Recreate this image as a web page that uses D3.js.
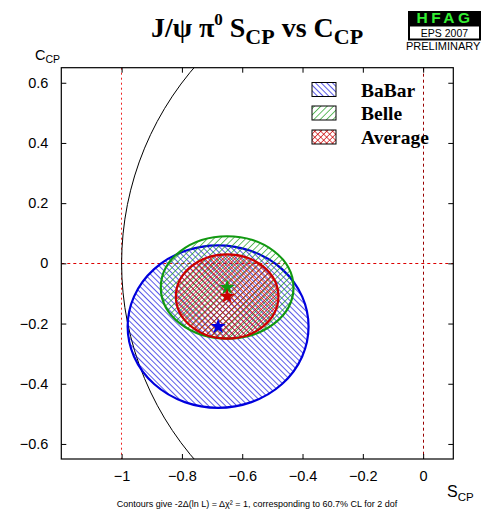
<!DOCTYPE html>
<html>
<head>
<meta charset="utf-8">
<script src="https://cdn.jsdelivr.net/npm/d3@7"></script>
<style>
  body { margin: 0; background: #fff; }
  svg { display: block; }
</style>
</head>
<body>
<svg width="483" height="509"></svg>
<script>
// measurements (S_CP, C_CP) with 1-sigma errors
var experiments = ["BaBar", "Belle", "Average"];
var sValues = [-0.68, -0.65, -0.65];
var cValues = [-0.21, -0.08, -0.11];
var sErrors = [0.30, 0.22, 0.17];
var cErrors = [0.27, 0.17, 0.14];
var colors = ["#0000dd", "#119911", "#cc0000"];
var patterns = ["hatch-back", "hatch-fwd", "hatch-cross"];

var xTicks = [-1, -0.8, -0.6, -0.4, -0.2, 0];
var yTicks = [-0.6, -0.4, -0.2, 0, 0.2, 0.4, 0.6];

var svg = d3.select("svg");

var margin = {left: 61.3, right: 29.7, top: 67.7, bottom: 50};
var width = 483 - margin.left - margin.right,
    height = 509 - margin.top - margin.bottom;

var x = d3.scaleLinear().domain([-1.2, 0.1]).range([margin.left, margin.left + width]);
var y = d3.scaleLinear().domain([-0.65, 0.65]).range([margin.top + height, margin.top]);

// snap to pixel centre so thin dashed lines keep their colour
function px(v) { return Math.floor(v) + 0.5; }

// hatch patterns
var defs = svg.append("defs");

var pBack = defs.append("pattern")
  .attr("id", "hatch-back")
  .attr("patternUnits", "userSpaceOnUse")
  .attr("width", 4).attr("height", 4)
  .attr("patternTransform", "rotate(-45)");
pBack.append("line")
  .attr("x1", 0).attr("y1", 0).attr("x2", 0).attr("y2", 4)
  .attr("stroke", colors[0]).attr("stroke-width", 1.3);

var pFwd = defs.append("pattern")
  .attr("id", "hatch-fwd")
  .attr("patternUnits", "userSpaceOnUse")
  .attr("width", 4.5).attr("height", 4.5)
  .attr("patternTransform", "rotate(45)");
pFwd.append("line")
  .attr("x1", 0).attr("y1", 0).attr("x2", 0).attr("y2", 4.5)
  .attr("stroke", colors[1]).attr("stroke-width", 1.3);

var pCross = defs.append("pattern")
  .attr("id", "hatch-cross")
  .attr("patternUnits", "userSpaceOnUse")
  .attr("width", 4.2).attr("height", 4.2)
  .attr("patternTransform", "rotate(45)");
pCross.append("line")
  .attr("x1", 0).attr("y1", 0).attr("x2", 0).attr("y2", 4.2)
  .attr("stroke", colors[2]).attr("stroke-width", 1.3);
pCross.append("line")
  .attr("x1", 0).attr("y1", 0).attr("x2", 4.2).attr("y2", 0)
  .attr("stroke", colors[2]).attr("stroke-width", 1.3);

defs.append("clipPath").attr("id", "plot-clip")
  .append("rect")
  .attr("x", margin.left).attr("y", margin.top)
  .attr("width", width).attr("height", height);

var plot = svg.append("g").attr("clip-path", "url(#plot-clip)");

// reference lines
plot.append("line")
  .attr("x1", x(-1.2)).attr("x2", x(0.1))
  .attr("y1", px(y(0))).attr("y2", px(y(0)))
  .attr("stroke", "#dd0000").attr("stroke-width", 1)
  .attr("stroke-dasharray", "3,3");
plot.append("line")
  .attr("x1", px(x(-1))).attr("x2", px(x(-1)))
  .attr("y1", y(0.65)).attr("y2", y(-0.65))
  .attr("stroke", "#ee2222").attr("stroke-width", 1)
  .attr("stroke-dasharray", "2,3");
plot.append("line")
  .attr("x1", px(x(0))).attr("x2", px(x(0)))
  .attr("y1", y(0.65)).attr("y2", y(-0.65))
  .attr("stroke", "#990000").attr("stroke-width", 1)
  .attr("stroke-dasharray", "3,3");

// physical boundary S^2 + C^2 = 1
plot.append("ellipse")
  .attr("cx", x(0)).attr("cy", y(0))
  .attr("rx", x(0) - x(-1)).attr("ry", y(-1) - y(0))
  .attr("fill", "none").attr("stroke", "#000").attr("stroke-width", 1);

// contours
experiments.forEach(function(name, i) {
  var rx = x(sValues[i] + sErrors[i]) - x(sValues[i]);
  var ry = y(cValues[i]) - y(cValues[i] + cErrors[i]);
  plot.append("ellipse")
    .attr("cx", x(sValues[i])).attr("cy", y(cValues[i]))
    .attr("rx", rx).attr("ry", ry)
    .attr("fill", "url(#" + patterns[i] + ")")
    .attr("stroke", colors[i]).attr("stroke-width", 2.2);
});

// central values
var star = d3.symbol().type(d3.symbolStar).size(75);
experiments.forEach(function(name, i) {
  plot.append("path")
    .attr("d", star)
    .attr("transform", "translate(" + x(sValues[i]) + "," + y(cValues[i]) + ")")
    .attr("fill", colors[i]);
});

// frame
svg.append("rect")
  .attr("x", margin.left).attr("y", margin.top)
  .attr("width", width).attr("height", height)
  .attr("fill", "none").attr("stroke", "#000").attr("stroke-width", 1.2);

// axes (inward ticks on all sides)
var tl = 5;
function noDomain(g) { g.select(".domain").remove(); }
svg.append("g")
  .attr("transform", "translate(0," + (margin.top + height) + ")")
  .call(d3.axisBottom(x).tickValues(xTicks).tickSize(-tl).tickPadding(12)
        .tickFormat(d3.format("")))
  .call(noDomain);
svg.append("g")
  .attr("transform", "translate(0," + margin.top + ")")
  .call(d3.axisTop(x).tickValues(xTicks).tickSize(-tl).tickFormat(""))
  .call(noDomain);
svg.append("g")
  .attr("transform", "translate(" + margin.left + ",0)")
  .call(d3.axisLeft(y).tickValues(yTicks).tickSize(-tl).tickPadding(13)
        .tickFormat(d3.format("")))
  .call(noDomain);
svg.append("g")
  .attr("transform", "translate(" + (margin.left + width) + ",0)")
  .call(d3.axisRight(y).tickValues(yTicks).tickSize(-tl).tickFormat(""))
  .call(noDomain);

svg.selectAll(".tick line").attr("stroke", "#000").attr("stroke-width", 1);
svg.selectAll(".tick text")
  .attr("font-family", "Liberation Sans, Arial, sans-serif")
  .attr("font-size", 14.5)
  .attr("fill", "#000");

// axis titles
var cLab = svg.append("text")
  .attr("x", 35).attr("y", 60)
  .attr("font-family", "Liberation Sans, Arial, sans-serif")
  .attr("font-size", 14.5);
cLab.append("tspan").text("C");
cLab.append("tspan").attr("font-size", 10.5).attr("dy", 3).text("CP");

var sLab = svg.append("text")
  .attr("x", 447).attr("y", 497)
  .attr("font-family", "Liberation Sans, Arial, sans-serif")
  .attr("font-size", 16);
sLab.append("tspan").text("S");
sLab.append("tspan").attr("font-size", 11.5).attr("dy", 3.5).text("CP");

// title
var title = svg.append("text")
  .attr("x", 257).attr("y", 37)
  .attr("text-anchor", "middle")
  .attr("font-family", "Liberation Serif, Times New Roman, serif")
  .attr("font-weight", "bold")
  .attr("font-size", 28);
title.append("tspan").text("J/\u03c8 \u03c0");
title.append("tspan").attr("font-size", 17).attr("dy", -12).text("0");
title.append("tspan").attr("dy", 12).text(" S");
title.append("tspan").attr("font-size", 22).attr("dy", 7).text("CP");
title.append("tspan").attr("dy", -7).text(" vs C");
title.append("tspan").attr("font-size", 22).attr("dy", 7).text("CP");

// HFAG logo
var logo = svg.append("g");
logo.append("rect").attr("x", 408).attr("y", 11).attr("width", 73).attr("height", 29.5).attr("fill", "#000");
logo.append("rect").attr("x", 410).attr("y", 26.5).attr("width", 69).attr("height", 12).attr("fill", "#fff");
logo.append("text")
  .attr("x", 445).attr("y", 23.3).attr("text-anchor", "middle")
  .attr("font-family", "Liberation Sans, Arial, sans-serif")
  .attr("font-weight", "bold").attr("font-size", 15.5)
  .attr("letter-spacing", 3.5)
  .attr("fill", "#33ee33").text("HFAG");
logo.append("text")
  .attr("x", 444.5).attr("y", 37.3).attr("text-anchor", "middle")
  .attr("font-family", "Liberation Sans, Arial, sans-serif")
  .attr("font-size", 10.5).attr("fill", "#000").text("EPS 2007");
logo.append("text")
  .attr("x", 406).attr("y", 50)
  .attr("font-family", "Liberation Sans, Arial, sans-serif")
  .attr("font-size", 11).attr("fill", "#000").text("PRELIMINARY");

// legend
var legend = svg.append("g");
var legY = [82.5, 106, 130];
experiments.forEach(function(name, i) {
  legend.append("rect")
    .attr("x", 312).attr("y", legY[i])
    .attr("width", 24).attr("height", 14)
    .attr("fill", "url(#" + patterns[i] + ")")
    .attr("stroke", "#000").attr("stroke-width", 1);
  legend.append("text")
    .attr("x", 361).attr("y", legY[i] + 14)
    .attr("font-family", "Liberation Serif, Times New Roman, serif")
    .attr("font-weight", "bold").attr("font-size", 19.5)
    .text(name);
});

// footnote
svg.append("text")
  .attr("x", 257).attr("y", 506.5).attr("text-anchor", "middle")
  .attr("font-family", "Liberation Sans, Arial, sans-serif")
  .attr("font-size", 9)
  .text("Contours give -2\u0394(ln L) = \u0394\u03c7\u00b2 = 1, corresponding to 60.7% CL for 2 dof");
</script>
</body>
</html>
